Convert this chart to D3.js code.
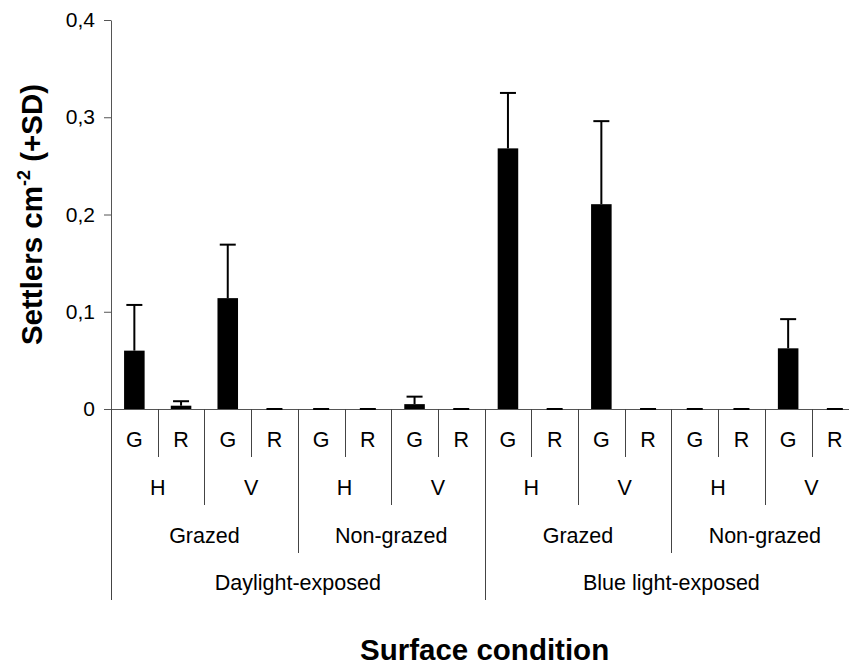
<!DOCTYPE html>
<html>
<head>
<meta charset="utf-8">
<script src="https://cdn.jsdelivr.net/npm/d3@7"></script>
<style>
  body { margin: 0; background: #fff; }
  svg { display: block; font-family: "Liberation Sans", Arial, sans-serif; }
</style>
</head>
<body>
<svg id="chart" width="849" height="668"></svg>
<script>
// category levels, outermost first
var lightLabels = ['Daylight-exposed', 'Blue light-exposed'];
var grazingLabels = ['Grazed', 'Non-grazed'];
var orientLabels = ['H', 'V'];
var surfaceLabels = ['G', 'R'];

// settlers per cm2, one value per G/R bar in reading order
var means = [0.060, 0.0034, 0.114, 0, 0, 0, 0.005, 0, 0.268, 0, 0.2106, 0, 0, 0, 0.0624, 0];
var sds = [0.047, 0.0046, 0.055, 0, 0, 0, 0.0077, 0, 0.057, 0, 0.0854, 0, 0, 0, 0.030, 0];

var yTicks = [0, 0.1, 0.2, 0.3, 0.4];

var margin = {top: 20, left: 111, bottom: 409};
var bandW = 46.7;
var font = '"Liberation Sans", Arial, sans-serif';

var svg = d3.select('#chart');

// build the flat list of bars from the nested levels
var bars = [];
lightLabels.forEach(function (l) {
	grazingLabels.forEach(function (g) {
		orientLabels.forEach(function (o) {
			surfaceLabels.forEach(function (s) {
				var i = bars.length;
				bars.push({light: l, grazing: g, orient: o, surface: s, mean: means[i], sd: sds[i], idx: i});
			});
		});
	});
});

var x = d3.scaleBand()
	.domain(bars.map(function (d) { return d.idx; }))
	.range([margin.left, margin.left + bandW * bars.length])
	.padding(0);

var y = d3.scaleLinear()
	.domain([0, 0.4])
	.range([margin.bottom, margin.top]);

var fmt = function (d) {
	return d === 0 ? '0' : d3.format('.1f')(d).replace('.', ',');
};

// y axis
var yAxis = svg.append('g')
	.attr('transform', 'translate(' + margin.left + ',0)')
	.call(d3.axisLeft(y).tickValues(yTicks).tickFormat(fmt).tickSize(7).tickSizeOuter(0).tickPadding(9));
yAxis.attr('font-family', font);
yAxis.select('.domain').attr('stroke', '#555');
yAxis.selectAll('.tick line').attr('stroke', '#555');
yAxis.selectAll('.tick text')
	.attr('font-size', '21px')
	.attr('fill', '#000');

// x axis baseline
svg.append('line')
	.attr('x1', margin.left).attr('x2', x.range()[1])
	.attr('y1', y(0) + 0.5).attr('y2', y(0) + 0.5)
	.attr('stroke', '#555');

// category separators, deeper for outer levels
var sepDepth = function (i) {
	if (i % 8 === 0) return 600;
	if (i % 4 === 0) return 553;
	if (i % 2 === 0) return 505;
	return 457;
};
svg.append('g').selectAll('line')
	.data(d3.range(bars.length + 1))
	.join('line')
	.attr('x1', function (i) { return Math.round(margin.left + i * bandW) + 0.5; })
	.attr('x2', function (i) { return Math.round(margin.left + i * bandW) + 0.5; })
	.attr('y1', y(0))
	.attr('y2', sepDepth)
	.attr('stroke', '#444');

// bars
var barW = bandW * 0.44;
svg.append('g').selectAll('rect')
	.data(bars.filter(function (d) { return d.mean > 0; }))
	.join('rect')
	.attr('x', function (d) { return x(d.idx) + (x.bandwidth() - barW) / 2; })
	.attr('y', function (d) { return y(d.mean); })
	.attr('width', barW)
	.attr('height', function (d) { return y(0) - y(d.mean); })
	.attr('fill', '#000');

// error bars (+SD)
var err = svg.append('g').attr('stroke', '#000').attr('stroke-width', 2);
bars.forEach(function (d) {
	var cx = x(d.idx) + x.bandwidth() / 2;
	var top = y(d.mean + d.sd);
	err.append('line')
		.attr('x1', cx).attr('x2', cx)
		.attr('y1', y(d.mean)).attr('y2', top);
	err.append('line')
		.attr('x1', cx - 8).attr('x2', cx + 8)
		.attr('y1', top).attr('y2', top);
});

// category labels
var lab = svg.append('g').attr('font-size', '21.5px').attr('text-anchor', 'middle').attr('fill', '#000');
bars.forEach(function (d) {
	lab.append('text')
		.attr('x', x(d.idx) + bandW / 2)
		.attr('y', 447)
		.text(d.surface);
});
var levelRow = function (span, key, yBase) {
	for (var i = 0; i < bars.length; i += span) {
		lab.append('text')
			.attr('x', margin.left + (i + span / 2) * bandW)
			.attr('y', yBase)
			.text(bars[i][key]);
	}
};
levelRow(2, 'orient', 495);
levelRow(4, 'grazing', 543);
levelRow(8, 'light', 590);

// axis titles
svg.append('text')
	.attr('x', margin.left + bandW * 8)
	.attr('y', 660)
	.attr('text-anchor', 'middle')
	.attr('font-size', '29.5px')
	.attr('font-weight', 'bold')
	.text('Surface condition');

var yt = svg.append('text')
	.attr('transform', 'translate(42,' + ((margin.top + margin.bottom) / 2) + ') rotate(-90)')
	.attr('text-anchor', 'middle')
	.attr('font-size', '29.5px')
	.attr('font-weight', 'bold');
yt.append('tspan').text('Settlers cm');
yt.append('tspan').attr('font-size', '18px').attr('dy', -12).text('-2');
yt.append('tspan').attr('dy', 12).text(' (+SD)');
</script>
</body>
</html>
